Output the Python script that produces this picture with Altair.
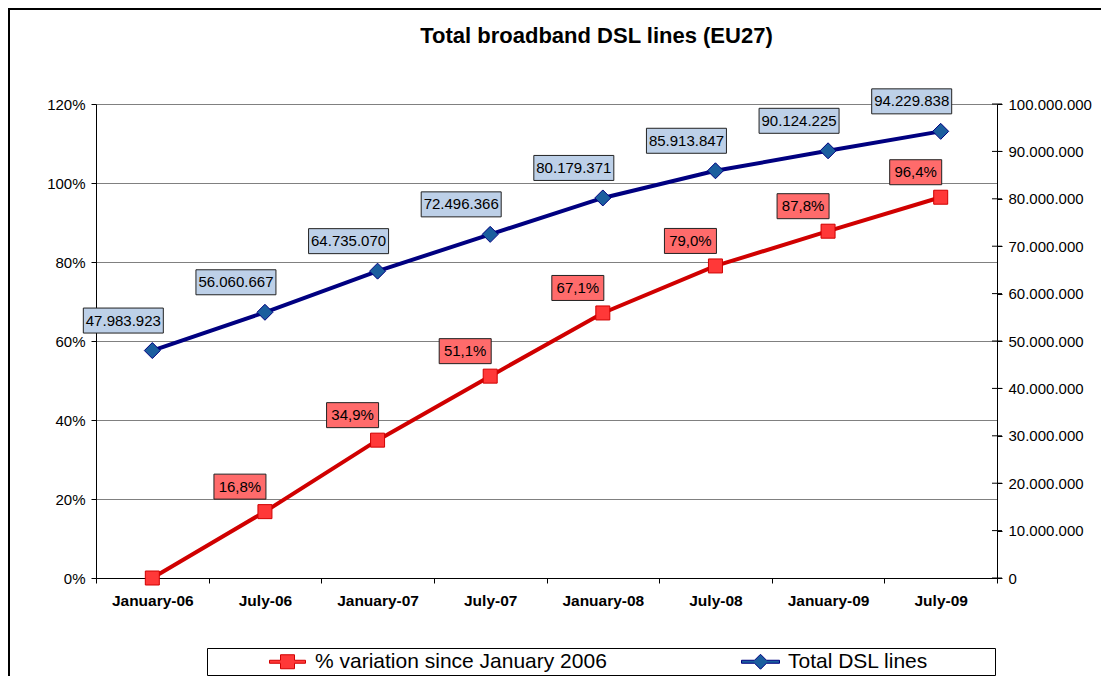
import altair as alt
import pandas as pd

periods = ["January-06", "July-06", "January-07", "July-07",
           "January-08", "July-08", "January-09", "July-09"]
dsl_lines = [47983923, 56060667, 64735070, 72496366,
             80179371, 85913847, 90124225, 94229838]
pct_variation = [0.0, 0.168, 0.349, 0.511, 0.671, 0.790, 0.878, 0.964]
series_names = ["% variation since January 2006", "Total DSL lines"]
left_ticks = [0, 0.2, 0.4, 0.6, 0.8, 1.0, 1.2]
right_ticks = [0, 10000000, 20000000, 30000000, 40000000, 50000000,
               60000000, 70000000, 80000000, 90000000, 100000000]

df = pd.DataFrame({"period": periods, "dsl": dsl_lines, "pct": pct_variation})
leg_df = pd.DataFrame({"series": series_names})
tick_df = pd.DataFrame({"dsl": right_ticks})
one = pd.DataFrame({"a": [0]})

FONT = "Liberation Sans"
RED_LINE = "#D00000"
RED_FILL = "#FF3838"
RED_BOX = "#FF6B6B"
NAVY = "#000080"
BLUE_FILL = "#1B5E9E"
BLUE_BOX = "#BDD0E8"

x_enc = alt.X(
    "period:N", sort=periods, bandPosition=0.5,
    scale=alt.Scale(type="band", paddingInner=0, paddingOuter=0),
    axis=alt.Axis(title=None, tickBand="extent", tickSize=5, tickColor="black",
                  domainColor="black", labelFont=FONT, labelFontSize=15.5,
                  labelFontWeight="bold", labelColor="black", labelPadding=10,
                  labelAngle=0),
)

y_left = alt.Y(
    "pct:Q", scale=alt.Scale(domain=[0, 1.2], nice=False),
    axis=alt.Axis(title=None, values=left_ticks, format=".0%", tickSize=5,
                  tickColor="black", domainColor="black", grid=True,
                  gridColor="#808080", labelFont=FONT, labelFontSize=15,
                  labelColor="black", labelPadding=6),
)
y_right = alt.Y(
    "dsl:Q", scale=alt.Scale(domain=[0, 100000000], nice=False),
    axis=alt.Axis(title=None, orient="right", values=right_ticks, format=",d",
                  tickSize=5, tickColor="black", domainColor="black", grid=False,
                  labelFont=FONT, labelFontSize=15, labelColor="black",
                  labelPadding=6),
)

base = alt.Chart(df)

frame = alt.Chart(one).mark_rect(fillOpacity=0, stroke="black", strokeWidth=2).encode(
    x=alt.value(-87), x2=alt.value(1200), y=alt.value(-95), y2=alt.value(700)
)

red_line = base.mark_line(color=RED_LINE, strokeWidth=4).encode(x=x_enc, y=y_left)
red_pts = base.mark_point(shape="square", size=196, filled=True, fill=RED_FILL,
                          stroke=RED_LINE, strokeWidth=1, opacity=1).encode(x=x_enc, y=y_left)
red_lbl_df = base.transform_filter("datum.pct > 0")
red_box = red_lbl_df.mark_point(shape="M-51,-37.5H1V-12.5H-51Z", size=4, filled=True,
                                fill=RED_BOX, stroke="#222222", strokeWidth=1,
                                opacity=1).encode(x=x_enc, y=y_left)
red_txt = red_lbl_df.mark_text(dx=-25, dy=-25, font=FONT, fontSize=15, color="black").encode(
    x=x_enc, y=y_left, text=alt.Text("pct:Q", format=".1%"))

red_path = "M-18,-1.5H-7V-7H7V-1.5H18V1.5H7V7H-7V1.5H-18Z"
blue_path = "M-19,-1.5H-6L0,-7.5L6,-1.5H19V1.5H6L0,7.5L-6,1.5H-19ZM229,0L229,0"
legend = alt.Legend(title=None, orient="none", legendX=111, legendY=544,
                    direction="horizontal", strokeColor="black", fillColor="white",
                    padding=3, symbolSize=4, symbolStrokeWidth=1, labelFont=FONT,
                    labelFontSize=21, labelColor="black", symbolOffset=67,
                    labelOffset=17, columnPadding=76, labelLimit=600)
dummy = alt.Chart(leg_df).mark_point(size=4, filled=True, opacity=1, clip=True).encode(
    x=alt.value(-200), y=alt.value(-200),
    shape=alt.Shape("series:N", sort=series_names,
                    scale=alt.Scale(domain=series_names, range=[red_path, blue_path]),
                    legend=legend),
    fill=alt.Fill("series:N", sort=series_names,
                  scale=alt.Scale(domain=series_names, range=[RED_FILL, BLUE_FILL]),
                  legend=legend),
    stroke=alt.Stroke("series:N", sort=series_names,
                      scale=alt.Scale(domain=series_names, range=[RED_LINE, NAVY]),
                      legend=legend),
)

left = alt.layer(frame, red_line, red_pts, red_box, red_txt, dummy)

blue_line = base.mark_line(color=NAVY, strokeWidth=4).encode(x=x_enc, y=y_right)
blue_pts = base.mark_point(shape="diamond", size=256, filled=True, fill=BLUE_FILL,
                           stroke=NAVY, strokeWidth=1, opacity=1).encode(x=x_enc, y=y_right)
blue_box = base.mark_point(shape="M-69,-42.5H11V-17.5H-69Z", size=4, filled=True,
                           fill=BLUE_BOX, stroke="#222222", strokeWidth=1,
                           opacity=1).encode(x=x_enc, y=y_right)
blue_txt = base.mark_text(dx=-29, dy=-30, font=FONT, fontSize=15, color="black").encode(
    x=x_enc, y=y_right, text=alt.Text("dsl:Q", format=",d"))
cross_ticks = alt.Chart(tick_df).mark_tick(orient="horizontal", size=10, thickness=1,
                                           color="black", opacity=1).encode(
    x=alt.value("width"), y=alt.Y("dsl:Q"))

right = alt.layer(blue_line, blue_pts, blue_box, blue_txt, cross_ticks)

chart = alt.layer(left, right).resolve_scale(y="independent").properties(
    width=901, height=474,
    title=alt.Title("Total broadband DSL lines (EU27)", font=FONT, fontSize=22,
                    fontWeight="bold", color="black", anchor="middle", dx=50,
                    offset=-40, frame="group"),
    autosize="none",
    padding={"left": 88, "top": 96, "right": 104, "bottom": 98},
).configure(
    locale={"number": {"decimal": ",", "thousands": ".", "grouping": [3],
                       "currency": ["", "€"]}}
).configure_view(stroke=None)

chart.save("out.html", embed_options={"renderer": "svg", "actions": False})
